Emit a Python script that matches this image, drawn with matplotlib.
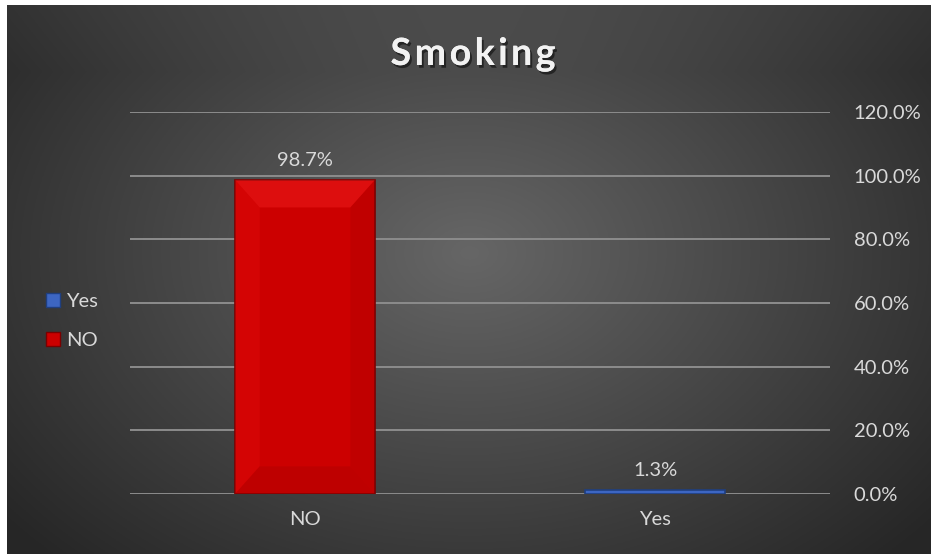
import numpy as np
import matplotlib.pyplot as plt
import matplotlib.patheffects as pe
from matplotlib.patches import Rectangle

# ----------------------------------
# data
# ----------------------------------
categories = ["NO", "Yes"]
shares = [0.987, 0.013]
bar_colors = ["#cc0000", "#3d66c2"]
edge_colors = ["#7a0000", "#1f3f80"]
legend_order = ["Yes", "NO"]
y_ticks = [0.0, 0.2, 0.4, 0.6, 0.8, 1.0, 1.2]
title = "Smoking"

plt.rcParams["font.family"] = ["Lato", "DejaVu Sans"]

fig = plt.figure(figsize=(9.31, 5.54), dpi=100)
fig.patch.set_facecolor("white")

# ----------------------------------
# dark gradient background
# ----------------------------------
bg = fig.add_axes([7 / 931, 0, 1 - 7 / 931, 1 - 5 / 554])
bg.set_axis_off()
h, w = 300, 500
yy, xx = np.mgrid[0:h, 0:w]
cx, cy = w * 0.50, h * 0.45
r = np.sqrt(((xx - cx) / (w * 0.62)) ** 2 + ((yy - cy) / (h * 0.75)) ** 2)
light = np.clip(0.40 - 0.24 * r, 0.15, 0.40)
# slightly lighter top band (bevel)
light = light + 0.04 * np.clip(1 - yy / (h * 0.12), 0, 1)
img = np.dstack([light, light, light])
bg.imshow(img, aspect="auto", extent=[0, 1, 0, 1], origin="upper")
bg.set_xlim(0, 1)
bg.set_ylim(0, 1)

# ----------------------------------
# main chart
# ----------------------------------
ax = fig.add_axes([130 / 931, (554 - 494) / 554, 700 / 931, (494 - 112) / 554])
ax.patch.set_alpha(0)
x = np.arange(len(categories))
bars = ax.bar(x, shares, width=0.4, color=bar_colors, edgecolor=edge_colors,
              linewidth=1.2, zorder=3)

# soft bevel shading on the bars
px_x = (ax.get_xlim()[1] - ax.get_xlim()[0]) / ax.bbox.width
px_y = (ax.get_ylim()[1] - ax.get_ylim()[0]) / ax.bbox.height
for b in bars:
    x0, y0 = b.get_x(), b.get_y()
    bw, bh = b.get_width(), b.get_height()
    if bh < 20 * px_y:
        continue
    dx = 32 * px_x
    dy = 32 * px_y
    top = [(x0, y0 + bh), (x0 + bw, y0 + bh), (x0 + bw - dx, y0 + bh - dy), (x0 + dx, y0 + bh - dy)]
    left = [(x0, y0), (x0, y0 + bh), (x0 + dx, y0 + bh - dy), (x0 + dx, y0 + dy)]
    right = [(x0 + bw, y0), (x0 + bw, y0 + bh), (x0 + bw - dx, y0 + bh - dy), (x0 + bw - dx, y0 + dy)]
    bottom = [(x0, y0), (x0 + bw, y0), (x0 + bw - dx, y0 + dy), (x0 + dx, y0 + dy)]
    ax.fill(*zip(*top), color="#ff2a2a", alpha=0.35, lw=0, zorder=4)
    ax.fill(*zip(*left), color="#e81010", alpha=0.3, lw=0, zorder=4)
    ax.fill(*zip(*right), color="#a00000", alpha=0.25, lw=0, zorder=4)
    ax.fill(*zip(*bottom), color="#a00000", alpha=0.3, lw=0, zorder=4)

for xi, v in zip(x, shares):
    ax.annotate(f"{v * 100:.1f}%", (xi, v), xytext=(0, 8), textcoords="offset points",
                ha="center", va="bottom", color="#d9d9d9", fontsize=14.5)

ax.set_xlim(-0.5, 1.5)
ax.set_ylim(0, 1.2)
ax.set_yticks(y_ticks)
ax.set_yticklabels([f"{t * 100:.1f}%" for t in y_ticks])
ax.yaxis.tick_right()
ax.set_xticks(x)
ax.set_xticklabels(categories)
ax.tick_params(axis="both", length=0, colors="#d9d9d9", labelsize=14.5)
ax.tick_params(axis="y", pad=17)
ax.tick_params(axis="x", pad=12)
ax.grid(axis="y", color="#8c8c8c", linewidth=1.4, zorder=0)
for s in ax.spines.values():
    s.set_visible(False)

# legend
handles = [Rectangle((0, 0), 1, 1, facecolor=bar_colors[categories.index(n)],
                     edgecolor=edge_colors[categories.index(n)]) for n in legend_order]
fig.legend(handles, legend_order, loc="center left", bbox_to_anchor=(28 / 931, 1 - 321 / 554),
           frameon=False, labelcolor="#d9d9d9", fontsize=14.5, handlelength=0.7,
           handleheight=0.7, handletextpad=0.3, labelspacing=1.1)

# letter-spaced title with a soft shadow
renderer = fig.canvas.get_renderer()
shadow = [pe.withSimplePatchShadow(offset=(1.5, -2), shadow_rgbFace="black", alpha=0.5), pe.Normal()]
chars = []
for ch in title:
    t = fig.text(0, 1 - 54 / 554, ch, ha="left", va="center", fontsize=27,
                 fontweight="bold", color="#f2f2f2", path_effects=shadow)
    chars.append(t)
widths = [t.get_window_extent(renderer).width for t in chars]
gap = 3.5
total = sum(widths) + gap * (len(chars) - 1)
xpos = 473 - total / 2
for t, wd in zip(chars, widths):
    t.set_x(xpos / 931)
    xpos += wd + gap

fig.savefig("out.png", dpi=100)
